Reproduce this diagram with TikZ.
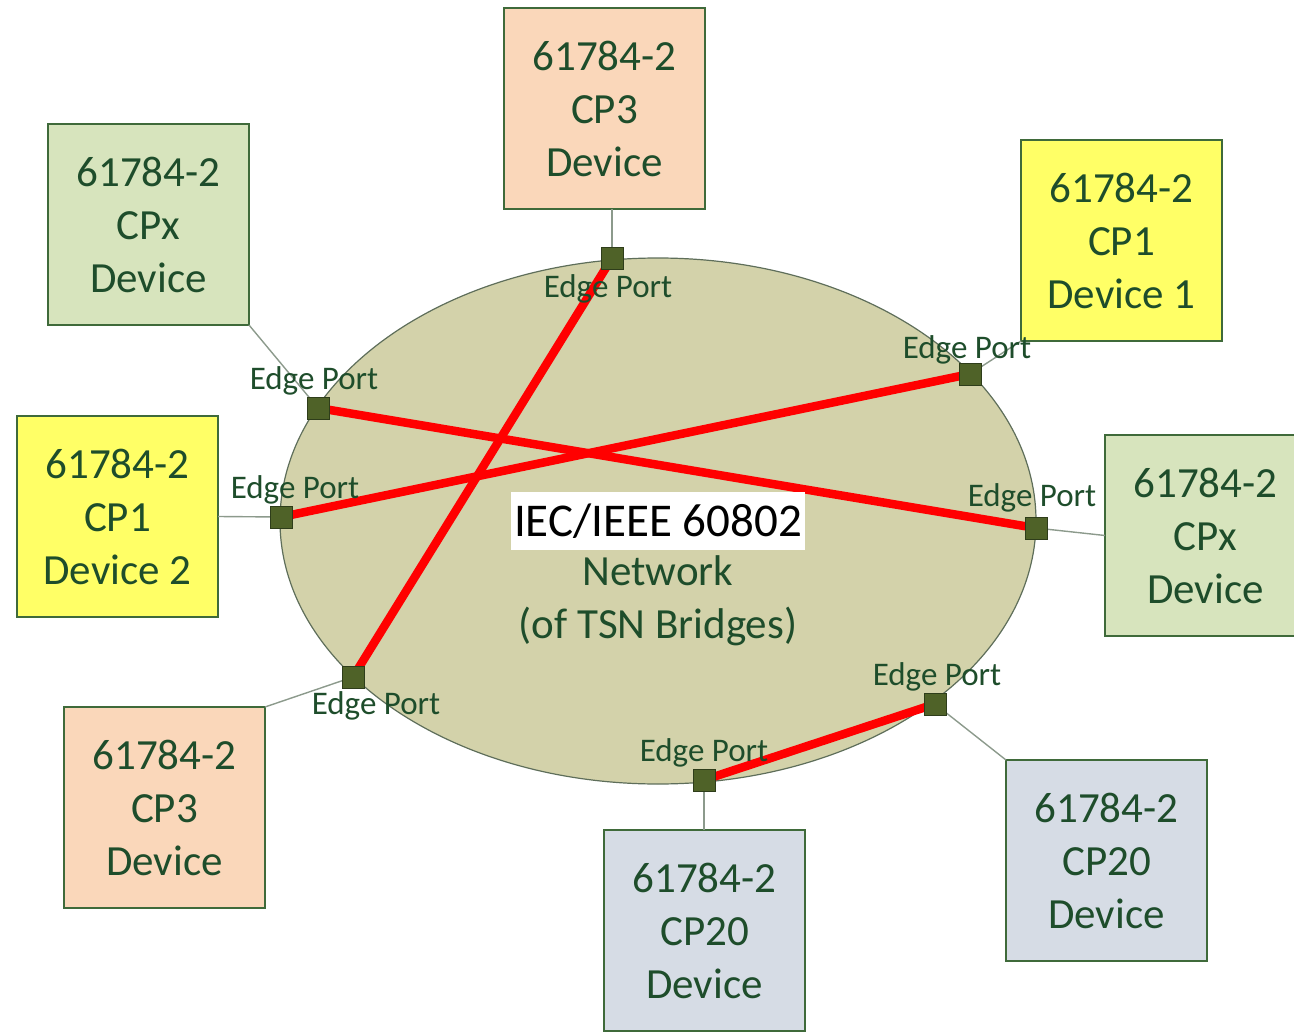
\documentclass[tikz,border=0pt]{standalone}
\usepackage{fontspec}
\setmainfont{Carlito}
\definecolor{txtgreen}{HTML}{1E4D2B}
\definecolor{boxline}{HTML}{3F6A3A}
\definecolor{cpxfill}{HTML}{D7E4BD}
\definecolor{cpthreefill}{HTML}{FAD7BA}
\definecolor{cponefill}{HTML}{FFFF66}
\definecolor{cptwentyfill}{HTML}{D6DCE5}
\definecolor{netfill}{HTML}{D3D2AA}
\definecolor{netline}{HTML}{5E6E5A}
\definecolor{portfill}{HTML}{4F6228}
\definecolor{portline}{HTML}{2E3D1A}
\definecolor{linkgray}{HTML}{8C9A8C}
\tikzset{
  dev/.style={draw=boxline, line width=1.2pt, fill=#1, minimum width=201, minimum height=201,
    inner sep=0pt, outer sep=0pt, anchor=north west, align=center, text=txtgreen,
    font=\fontsize{43}{53}\selectfont},
  port/.style={draw=portline, line width=1pt, fill=portfill, minimum size=22, inner sep=0pt},
  lbl/.style={text=txtgreen, inner sep=0pt, font=\fontsize{33}{39}\selectfont},
  link/.style={draw=linkgray, line width=1.4pt},
  redlink/.style={draw=red, line width=8.5pt},
}
\begin{document}
\begin{tikzpicture}[x=1pt,y=-1pt]
		\useasboundingbox (0,0) rectangle (1294,1033);

		\draw [fill=netfill, draw=netline, line width=1.2pt] (658,521) ellipse [x radius=378, y radius=263];

		\node [dev=cpthreefill] (cp3a) at (504,8) {61784-2\\CP3\\Device};
		\node [dev=cpxfill] (cpxa) at (48,124) {61784-2\\CPx\\Device};
		\node [dev=cponefill] (cp1a) at (1021,140) {61784-2\\CP1\\Device 1};
		\node [dev=cponefill] (cp1b) at (17,416) {61784-2\\CP1\\Device 2};
		\node [dev=cpxfill] (cpxb) at (1105,435) {61784-2\\CPx\\Device};
		\node [dev=cpthreefill] (cp3b) at (64,707) {61784-2\\CP3\\Device};
		\node [dev=cptwentyfill] (cp20a) at (604,830) {61784-2\\CP20\\Device};
		\node [dev=cptwentyfill] (cp20b) at (1006,760) {61784-2\\CP20\\Device};

		\coordinate (pa) at (612,258);
		\coordinate (pb) at (318,408);
		\coordinate (pc) at (970,374);
		\coordinate (pd) at (281,517);
		\coordinate (pe) at (1036,528);
		\coordinate (pf) at (353,677);
		\coordinate (pg) at (935,704);
		\coordinate (ph) at (704,780);

		\draw [link] (pa) -- (pa |- cp3a.south);
		\draw [link] (pb) -- (cpxa.south east);
		\draw [link] (pc) -- (cp1a.south west);
		\draw [link] (pd) -- (cp1b.east);
		\draw [link] (pe) -- (cpxb.west);
		\draw [link] (pf) -- (cp3b.north east);
		\draw [link] (pg) -- (cp20b.north west);
		\draw [link] (ph) -- (ph |- cp20a.north);

		\draw [redlink] (pa) -- (pf);
		\draw [redlink] (pb) -- (pe);
		\draw [redlink] (pd) -- (pc);
		\draw [redlink] (ph) -- (pg);

		\foreach \p in {pa,pb,pc,pd,pe,pf,pg,ph}
			\node [port] (\p box) at (\p) {};

		\node [lbl] (la) at (608,289) {Edge Port};
		\node [lbl] (lb) at (314,381) {Edge Port};
		\node [lbl] (lc) at (967,350) {Edge Port};
		\node [lbl] (ld) at (295,490) {Edge Port};
		\node [lbl] (le) at (1032,498) {Edge Port};
		\node [lbl] (lf) at (376,706) {Edge Port};
		\node [lbl] (lg) at (937,677) {Edge Port};
		\node [lbl] (lh) at (704,753) {Edge Port};

		\node [fill=white, text=black, inner sep=3pt, minimum height=58, font=\fontsize{47}{56}\selectfont] (std) at (658,521) {IEC/IEEE 60802};
		\node [text=txtgreen, align=center, font=\fontsize{43}{53}\selectfont, anchor=north] (net) at (658,552) {Network\\(of TSN Bridges)};

	\end{tikzpicture}
\end{document}
